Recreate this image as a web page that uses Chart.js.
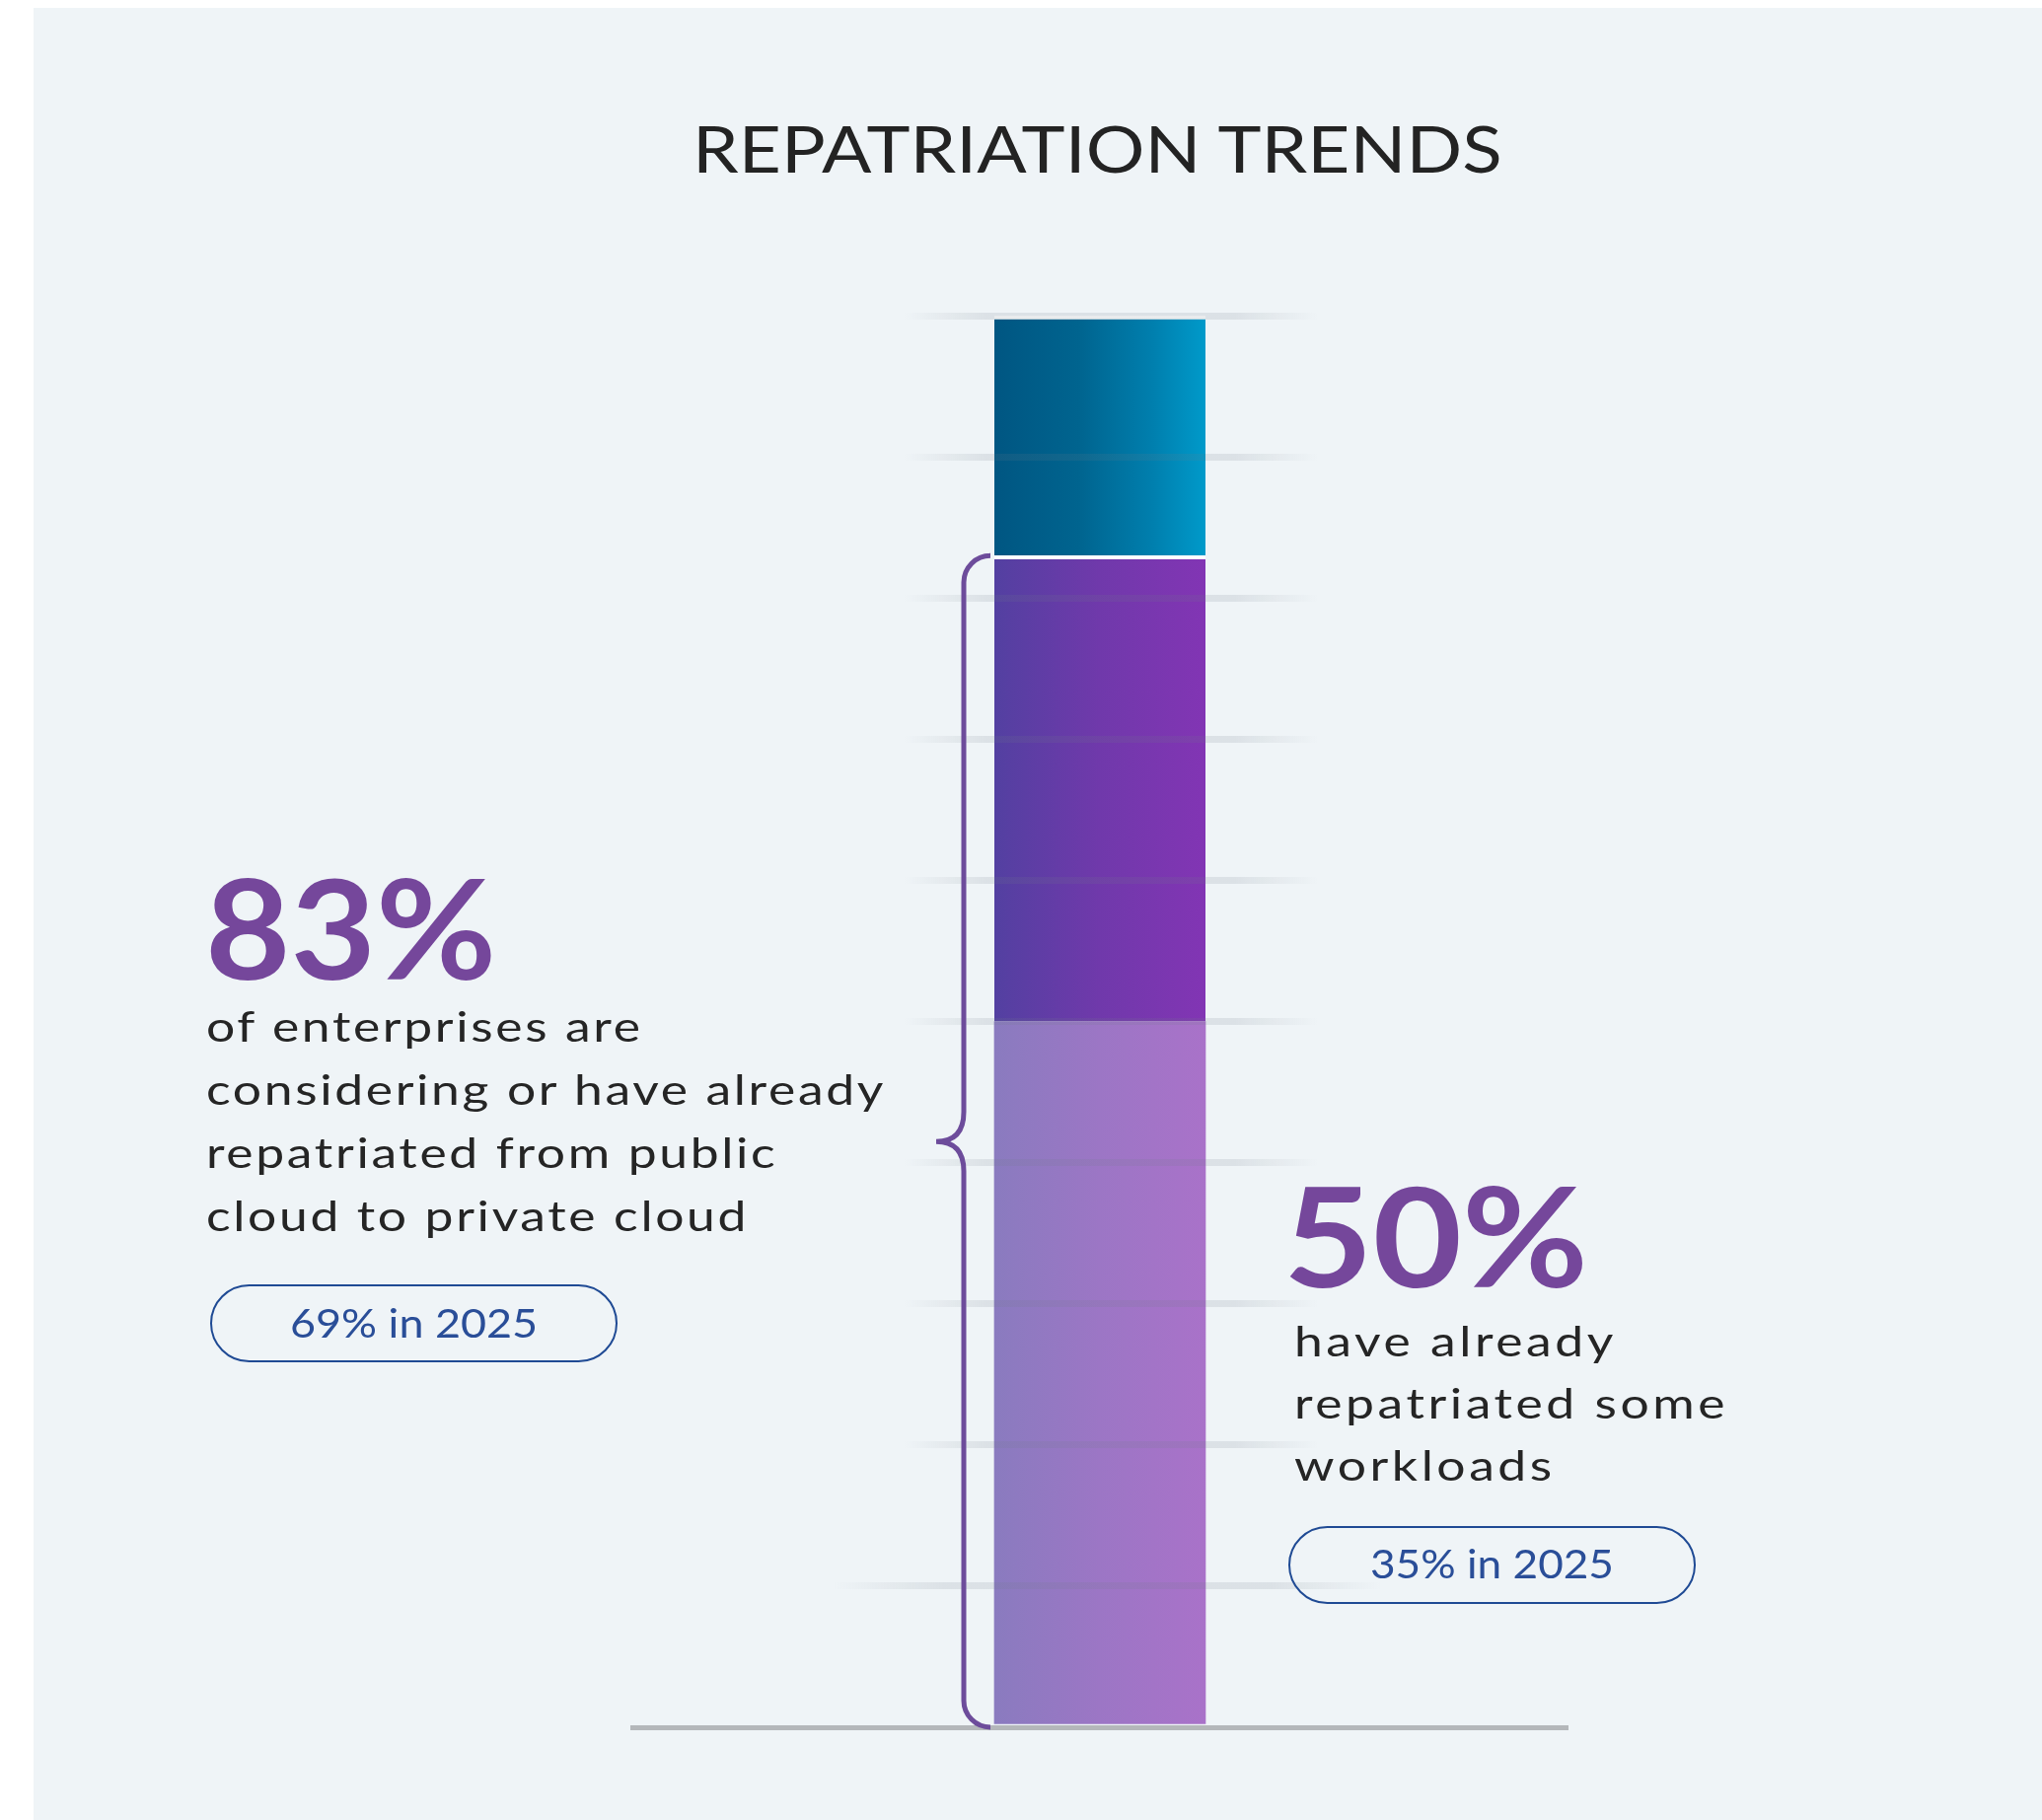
<!DOCTYPE html>
<html>
<head>
<meta charset="utf-8">
<title>Repatriation Trends</title>
<script src="https://cdn.jsdelivr.net/npm/chart.js@4.4.1/dist/chart.umd.min.js"></script>
<style>
  html, body { margin: 0; padding: 0; background: #ffffff; }
  body { width: 2070px; height: 1845px; position: relative; overflow: hidden; font-family: Lato, sans-serif; }
  #panel { position: absolute; left: 34px; top: 8px; right: 0; bottom: 0; background: #eff4f7; }
  #chart { position: absolute; left: 0; top: 0; display: block; }
  .txt { position: absolute; white-space: nowrap; line-height: 1; transform-origin: 0 0; }
  .mark { display: inline-block; width: 0; height: 0; }
  .pill { position: absolute; box-sizing: border-box; border: 2.5px solid #1f4a94; border-radius: 40px; }
</style>
</head>
<body>
<div id="panel"></div>
<canvas id="chart" width="2070" height="1845"></canvas>
<div id="labels"></div>
<script>
// Chart data
const categories = ["Enterprises"];
const segmentLabels = ["Already repatriated some workloads", "Considering repatriation", "Not repatriating"];
const segmentValues = [50, 33, 17];
const axisMax = 100;
const gridStep = 10;
const priorValues = [69, 35];
const priorYear = 2025;

const titleText = "REPATRIATION TRENDS";
const leftLines = ["of enterprises are", "considering or have already", "repatriated from public", "cloud to private cloud"];
const rightLines = ["have already", "repatriated some", "workloads"];

// Colours for each segment (left -> right gradient stops)
const segmentStops = [
    [[0, "#8a7bbf"], [0.5, "#9c76c5"], [1, "#a972c9"]],
    [[0, "#5340a1"], [0.5, "#7039ab"], [1, "#8235b4"]],
    [[0, "#005682"], [0.4, "#00648f"], [0.75, "#007fae"], [1, "#009aca"]]
];

const BAR_W = 214;

function barFill(c, i) {
    const chart = c.chart;
    if (!chart.chartArea) return segmentStops[i][0][1];
    const cx = chart.scales.x.getPixelForValue(0);
    const g = chart.ctx.createLinearGradient(cx - BAR_W / 2, 0, cx + BAR_W / 2, 0);
    segmentStops[i].forEach(s => g.addColorStop(s[0], s[1]));
    return g;
}

function gridColor(c) {
    const chart = c.chart;
    if (!c.tick || c.tick.value === 0 || !chart.chartArea) return "rgba(0,0,0,0)";
    const cx = chart.scales.x.getPixelForValue(0);
    // the lowest line runs a little wider than the others
    const x1 = c.tick.value === gridStep ? cx - 270 : cx - 199;
    const x2 = c.tick.value === gridStep ? cx + 285 : cx + 221;
    const g = chart.ctx.createLinearGradient(x1, 0, x2, 0);
    g.addColorStop(0, "rgba(110,122,134,0)");
    g.addColorStop(0.2, "rgba(110,122,134,0.15)");
    g.addColorStop(0.8, "rgba(110,122,134,0.15)");
    g.addColorStop(1, "rgba(110,122,134,0)");
    return g;
}

// curly brace next to the "considering or already repatriated" share
const bracePlugin = {
    id: "brace",
    afterDraw(chart) {
        const ctx = chart.ctx;
        const y = chart.scales.y;
        const bar = chart.getDatasetMeta(0).data[0];
        const left = bar.x - bar.width / 2;
        const top = y.getPixelForValue(segmentValues[0] + segmentValues[1]);
        const bottom = y.getPixelForValue(0);
        const mid = (top + bottom) / 2;
        const xl = left - 31, tip = left - 59, end = left - 5, r = 27, k = 30;
        ctx.save();
        ctx.strokeStyle = "#6d4c9b";
        ctx.lineWidth = 5;
        ctx.beginPath();
        ctx.moveTo(end, top);
        ctx.arcTo(xl, top, xl, top + r, r);
        ctx.lineTo(xl, mid - k);
        ctx.quadraticCurveTo(xl, mid, tip, mid);
        ctx.quadraticCurveTo(xl, mid, xl, mid + k);
        ctx.lineTo(xl, bottom - r);
        ctx.arcTo(xl, bottom, end, bottom, r);
        ctx.lineTo(end, bottom);
        ctx.stroke();
        ctx.restore();
    }
};

const ctx = document.getElementById("chart").getContext("2d");
new Chart(ctx, {
    type: "bar",
    data: {
        labels: categories,
        datasets: segmentLabels.map((label, i) => ({
            label: label,
            data: [segmentValues[i]],
            backgroundColor: c => barFill(c, i),
            borderColor: "#ffffff",
            borderWidth: i === 0 ? 0 : { top: 4, right: 0, bottom: 0, left: 0 },
            borderSkipped: false,
            barThickness: BAR_W
        }))
    },
    options: {
        responsive: false,
        animation: false,
        devicePixelRatio: 1,
        layout: { padding: { left: 641, right: 481, top: 320, bottom: 94 } },
        plugins: { legend: { display: false }, tooltip: { enabled: false } },
        scales: {
            x: {
                stacked: true,
                grid: { display: false },
                ticks: { display: false },
                border: { display: true, color: "#b4b7ba", width: 5 },
                afterFit: s => { s.height = 0; }
            },
            y: {
                stacked: true,
                min: 0,
                max: axisMax,
                ticks: { display: false, stepSize: gridStep },
                border: { display: false },
                grid: { drawTicks: false, lineWidth: 7, color: gridColor, z: 1 },
                afterFit: s => { s.width = 0; }
            }
        }
    },
    plugins: [bracePlugin]
});

// ---- text blocks (HTML) ----
const labels = document.getElementById("labels");
const meas = document.createElement("canvas").getContext("2d");

const styles = {
    title: { size: 66, weight: 400, color: "#232323", stretch: 1.13 },
    big: { size: 140, weight: 700, color: "#75479b", stretch: 1.13 },
    desc: { size: 43, weight: 400, color: "#252525", stretch: 1.2 },
    pill: { size: 41, weight: 400, color: "#2a4e98", stretch: 1.15 }
};

function ink(text, st) {
    meas.font = st.weight + " " + st.size + "px Lato";
    const m = meas.measureText(text);
    return { left: -m.actualBoundingBoxLeft, width: m.actualBoundingBoxRight + m.actualBoundingBoxLeft };
}

// widen a line to the target width: mostly by stretching, the rest by spacing
function fitFor(text, st, targetW) {
    const w0 = ink(text, st).width;
    const sx = Math.max(0.95, Math.min(targetW / w0, st.stretch));
    const ls = (targetW / sx - w0) / (text.length - 1);
    return { sx: sx, ls: ls };
}

function addText(text, st, left, baseline, fit) {
    const d = document.createElement("div");
    d.className = "txt";
    d.style.font = st.weight + " " + st.size + "px Lato";
    d.style.lineHeight = "1";
    d.style.color = st.color;
    d.style.letterSpacing = fit.ls + "px";
    d.style.transform = "scaleX(" + fit.sx + ")";
    const s = document.createElement("span");
    s.textContent = text;
    const m = document.createElement("span");
    m.className = "mark";
    d.append(s, m);
    labels.append(d);
    d.style.left = left + "px";
    d.style.top = (baseline - m.offsetTop) + "px";
    return d;
}

function addBlock(lines, st, x, firstBase, step, longest, targetW) {
    const fit = fitFor(lines[longest], st, targetW);
    const left = x - fit.sx * ink(lines[0], st).left;
    lines.forEach((t, i) => addText(t, st, left, firstBase + i * step, fit));
}

function addCentered(text, st, cx, baseline, targetW) {
    const fit = fitFor(text, st, targetW);
    addText(text, st, cx - targetW / 2 - fit.sx * ink(text, st).left, baseline, fit);
}

function addPill(x, y, w, h, text, baseline, textW) {
    const p = document.createElement("div");
    p.className = "pill";
    p.style.left = x + "px";
    p.style.top = y + "px";
    p.style.width = w + "px";
    p.style.height = h + "px";
    labels.append(p);
    addCentered(text, styles.pill, x + w / 2, baseline, textW);
}

// title, centred over the bar
addCentered(titleText, styles.title, 1115.5, 175, 813);

// left callout
const leftShare = segmentValues[0] + segmentValues[1];
addBlock([leftShare + "%"], styles.big, 213, 993, 0, 0, 285);
addBlock(leftLines, styles.desc, 210, 1056, 64, 1, 686);
addPill(213, 1302, 413, 79, priorValues[0] + "% in " + priorYear, 1356, 247);

// right callout
addBlock([segmentValues[0] + "%"], styles.big, 1308, 1305, 0, 0, 297);
addBlock(rightLines, styles.desc, 1316, 1375, 63, 1, 432);
addPill(1306, 1547, 413, 79, priorValues[1] + "% in " + priorYear, 1600, 244);
</script>
</body>
</html>
